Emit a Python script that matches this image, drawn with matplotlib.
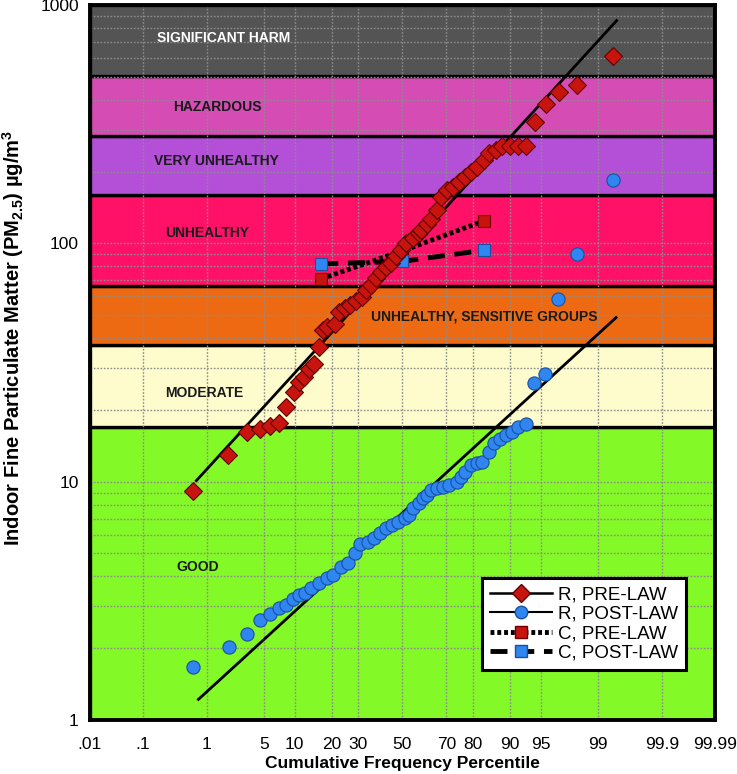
import numpy as np
import matplotlib
matplotlib.use("Agg")
import matplotlib.pyplot as plt
from matplotlib.lines import Line2D
from matplotlib.ticker import LogLocator, NullFormatter, FixedLocator
from statistics import NormalDist

plt.rcParams['font.family'] = ['Liberation Sans', 'DejaVu Sans']
plt.rcParams['mathtext.fontset'] = 'custom'
plt.rcParams['mathtext.rm'] = 'Liberation Sans:bold'
plt.rcParams['mathtext.it'] = 'Liberation Sans:bold'
plt.rcParams['mathtext.bf'] = 'Liberation Sans:bold'

# --- data (percentile, ug/m3) ---
r_pre_pct = [0.64, 1.9, 3.2, 4.5, 5.7, 7.1, 8.3, 9.8, 10.9, 12.1, 13.3, 14.6, 16.1, 17.1,
             18.6, 21.0, 22.7, 24.6, 26.5, 28.9, 31.5, 33.2, 35.5, 37.7, 39.9, 42.3, 44.8,
             47.1, 49.5, 51.9, 54.8, 57.7, 58.6, 61.4, 63.2, 66.0, 67.7, 70.2, 72.7, 75.0,
             77.3, 79.4, 81.4, 83.3, 85.0, 86.7, 88.2, 90.0, 91.6, 93.0, 94.3, 95.6, 96.9,
             98.1, 99.38]
r_pre_val = [9.15, 12.9, 16.2, 16.6, 17.1, 17.7, 20.5, 23.7, 26.2, 27.5, 29.8, 31.3, 36.6, 43.3,
             44.7, 45.9, 51.7, 53.7, 55.1, 57.5, 59.8, 63.7, 66.8, 71.3, 76.0, 79.3, 82.4,
             88.1, 94.0, 100, 105, 111, 114, 121, 127, 138, 157, 168, 172, 181,
             190, 200, 210, 224, 239, 247, 255, 255, 255, 255, 324, 384, 433,
             462, 610]

r_post_pct = [0.63, 1.94, 3.2, 4.5, 5.7, 7.1, 8.3, 9.7, 10.9, 12.3, 13.9, 16.1, 18.6, 20.6,
              23.4, 26.0, 28.6, 30.6, 34.0, 36.8, 39.5, 42.3, 45.2, 48.1, 51.0, 53.3, 54.8,
              57.7, 59.5, 61.4, 63.2, 66.0, 68.5, 71.1, 74.3, 75.8, 77.3, 79.4, 81.4, 82.7,
              85.0, 86.1, 87.7, 89.1, 90.4, 91.6, 92.9, 94.2, 95.5, 96.8, 98.1, 99.4]
r_post_val = [1.67, 2.02, 2.29, 2.63, 2.78, 2.95, 3.04, 3.22, 3.35, 3.41, 3.58, 3.76, 3.94, 4.06,
              4.38, 4.56, 5.02, 5.47, 5.58, 5.80, 6.09, 6.38, 6.57, 6.77, 7.04, 7.24, 7.74,
              8.13, 8.52, 8.77, 9.22, 9.4, 9.5, 9.7, 9.97, 10.5, 11.0, 11.7, 12.0, 12.1,
              13.3, 14.5, 15.1, 15.7, 16.1, 16.9, 17.4, 25.9, 28.3, 58.5, 90, 184]

c_pct = [16.7, 50, 83.3]
c_pre_val = [71, 93, 124]
c_post_val = [82, 84, 93.5]

# fitted lognormal lines (end points)
fit_pre_pct = [0.71, 99.46]
fit_pre_val = [10.1, 860]
fit_post_pct = [0.76, 99.45]
fit_post_val = [1.22, 48.8]

# AQI bands: (bottom, top, colour, label)
band_edges = [1, 17, 37.5, 66, 160, 282, 504, 1000]
band_colors = ['#84f928', '#fefccc', '#ee6a12', '#ff1168', '#b450d8', '#d54db4', '#545454']
band_names = ['GOOD', 'MODERATE', 'UNHEALTHY, SENSITIVE GROUPS', 'UNHEALTHY',
              'VERY UNHEALTHY', 'HAZARDOUS', 'SIGNIFICANT HARM']

xticks = [0.01, 0.1, 1, 5, 10, 20, 30, 50, 70, 80, 90, 95, 99, 99.9, 99.99]
xticklabels = ['.01', '.1', '1', '5', '10', '20', '30', '50', '70', '80', '90', '95', '99',
               '99.9', '99.99']

nd = NormalDist()
_ppf = np.vectorize(lambda v: nd.inv_cdf(v), otypes=[float])
_cdf = np.vectorize(lambda v: nd.cdf(v), otypes=[float])


def forward(p):
    p = np.clip(np.asarray(p, dtype=float), 1e-7, 100 - 1e-7)
    return _ppf(p / 100.0)


def inverse(z):
    return _cdf(np.asarray(z, dtype=float)) * 100.0


fig = plt.figure(figsize=(7.37, 7.74), dpi=100)
ax = fig.add_axes([0.122, 0.0698, 0.848, 0.9237])
ax.set_xscale('function', functions=(forward, inverse))
ax.set_yscale('log')
ax.set_xlim(0.01, 99.99)
ax.set_ylim(1, 1000)

# bands
for i in range(len(band_colors)):
    ax.axhspan(band_edges[i], band_edges[i + 1], facecolor=band_colors[i],
               edgecolor='black', linewidth=2.4, zorder=0.8)

label_pos = {'GOOD': (0.73, 4.4), 'MODERATE': (0.91, 23.6),
             'UNHEALTHY, SENSITIVE GROUPS': (83.6, 49.5), 'UNHEALTHY': (1.0, 110),
             'VERY UNHEALTHY': (1.33, 221), 'HAZARDOUS': (1.37, 373),
             'SIGNIFICANT HARM': (1.65, 727)}
for name in band_names:
    x, y = label_pos[name]
    ax.text(x, y, name, ha='center', va='center', fontsize=10, fontweight='bold',
            color='white' if name == 'SIGNIFICANT HARM' else '#1a1a1a', zorder=3)

# grid
ax.yaxis.set_minor_locator(LogLocator(base=10, subs=np.arange(2, 10)))
ax.yaxis.set_minor_formatter(NullFormatter())
ax.xaxis.set_minor_locator(FixedLocator([]))
ax.grid(True, which='both', color='#8c8c8c', linestyle=(0, (1.2, 1.2)), linewidth=1.0)

# fit lines
ax.plot(fit_pre_pct, fit_pre_val, color='black', lw=2.0, zorder=4)
ax.plot(fit_post_pct, fit_post_val, color='black', lw=2.0, zorder=4)

# C series
ax.plot(c_pct, c_pre_val, color='black', lw=3.5, linestyle=(0, (0.8, 0.6)), zorder=4)
ax.plot(c_pct, c_post_val, color='black', lw=3.5, linestyle=(0, (3.5, 2)), zorder=4)
ax.plot(c_pct, c_pre_val, linestyle='none', marker='s', ms=9, mfc='#c8140f', mec='#700000',
        mew=0.8, zorder=5)
ax.plot(c_pct, c_post_val, linestyle='none', marker='s', ms=9, mfc='#2f86f0', mec='#1a4fa0',
        mew=0.8, zorder=5)

# R series
ax.plot(r_pre_pct, r_pre_val, linestyle='none', marker='D', ms=9, mfc='#c8140f',
        mec='#600000', mew=0.8, zorder=5)
ax.plot(r_post_pct, r_post_val, linestyle='none', marker='o', ms=9.5, mfc='#2f86f0',
        mec='#1a4fa0', mew=0.8, zorder=5)

# axes
ax.set_xticks(xticks)
ax.set_xticklabels(xticklabels)
ax.set_yticks([1, 10, 100, 1000])
ax.set_yticklabels(['1', '10', '100', '1000'])
ax.tick_params(axis='both', which='both', length=0, labelsize=12.5)
ax.tick_params(axis='x', pad=12)
ax.tick_params(axis='y', pad=8)
for s in ax.spines.values():
    s.set_linewidth(2.8)
    s.set_zorder(6)

ax.set_xlabel('Cumulative Frequency Percentile', fontsize=12.5, fontweight='bold', labelpad=3)
ax.set_ylabel(r'Indoor Fine Particulate Matter (PM$_{2.5}$) µg/m$^{3}$', fontsize=14.5,
              fontweight='bold')
ax.yaxis.set_label_coords(-0.103, 0.535)

handles = [
    Line2D([], [], color='black', lw=1.8, marker='D', ms=9, mfc='#c8140f', mec='#600000'),
    Line2D([], [], color='black', lw=1.5, marker='o', ms=9, mfc='#2f86f0', mec='#1a4fa0'),
    Line2D([], [], color='black', lw=3.5, linestyle=(0, (0.8, 0.6)), marker='s', ms=9,
           mfc='#c8140f', mec='#700000'),
    Line2D([], [], color='black', lw=3.5, linestyle=(0, (3.5, 2)), marker='s', ms=9,
           mfc='#2f86f0', mec='#1a4fa0'),
]
leg = ax.legend(handles, ['R, PRE-LAW', 'R, POST-LAW', 'C, PRE-LAW', 'C, POST-LAW'],
                loc='upper left', bbox_to_anchor=(0.612, 0.212), fontsize=13.5,
                handlelength=3.3, labelspacing=0.12, borderpad=0.45, handletextpad=0.3,
                fancybox=False, framealpha=1, edgecolor='black')
leg.get_frame().set_linewidth(2.2)
leg.set_zorder(7)

fig.savefig('out.png', dpi=100)
